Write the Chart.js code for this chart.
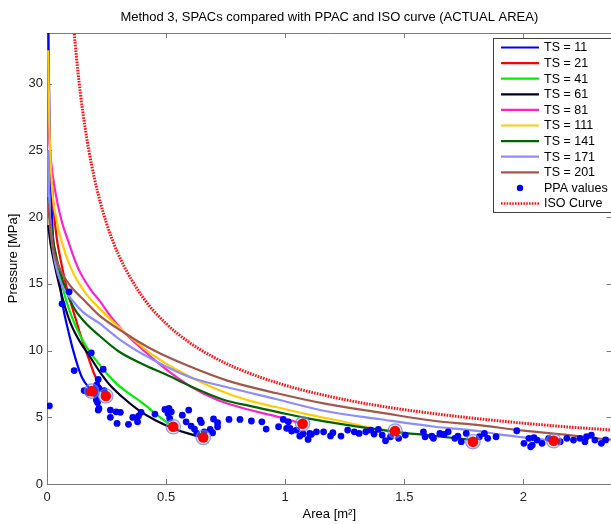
<!DOCTYPE html>
<html><head><meta charset="utf-8">
<script src="https://cdn.jsdelivr.net/npm/chart.js@4.4.1/dist/chart.umd.min.js"></script>
<style>html,body{margin:0;padding:0;background:#fff;overflow:hidden;}#wrap{width:620px;height:524px;}</style>
</head><body><div id="wrap"><canvas id="c" width="620" height="524"></canvas></div>
<script>
const FONT = '"Liberation Sans", Arial, Helvetica, sans-serif';
const titleText = 'Method 3, SPACs compared with PPAC and ISO curve (ACTUAL AREA)';
const xLabel = 'Area [m²]';
const yLabel = 'Pressure [MPa]';
const xTicks = [0, 0.5, 1, 1.5, 2];
const yTicks = [0, 5, 10, 15, 20, 25, 30];
const xRange = [0, 2.37];
const yRange = [0, 33.8];

const seriesNames = ['TS = 11','TS = 21','TS = 41','TS = 61','TS = 81','TS = 111','TS = 141','TS = 171','TS = 201'];
const seriesColors = ['#0000ff','#ff0000','#00ee00','#000028','#ff22cc','#ffcc00','#006400','#8c8cff','#a3574b'];

const ts11Area = [0.005,0.008,0.012,0.018,0.025,0.04,0.052,0.066,0.085,0.107,0.13,0.149,0.1875];
const ts11Pressure = [36,30.5,25.8,21.6,18.6,16.2,15.3,13.4,11.8,10.2,8.8,7.9,6.96];
const ts21Area = [0.02,0.03,0.041,0.055,0.07,0.09,0.12,0.149,0.175,0.197,0.22,0.247];
const ts21Pressure = [22.7,20.2,18.4,17.0,15.7,14.2,12.4,10.7,9.4,8.3,7.4,6.6];
const ts41Area = [0.005,0.012,0.025,0.04,0.055,0.068,0.085,0.107,0.14,0.176,0.218,0.25,0.287,0.335,0.384,0.42,0.453,0.49,0.53];
const ts41Pressure = [21.5,20.0,18.3,16.9,15.7,14.6,13.5,12.4,11.1,10.0,9.0,8.3,7.6,6.9,6.29,5.8,5.3,4.8,4.29];
const ts61Area = [0.005,0.015,0.03,0.05,0.075,0.1,0.14,0.176,0.218,0.26,0.315,0.38,0.453,0.536,0.591,0.656];
const ts61Pressure = [19.4,18.0,16.6,15.0,13.3,12.0,10.6,9.66,8.5,7.5,6.54,5.6,4.79,4.12,3.79,3.49];
const ts81Area = [0.005,0.015,0.034,0.06,0.089,0.13,0.186,0.218,0.27,0.329,0.4,0.495,0.605,0.716,0.84,0.965,1.073];
const ts81Pressure = [27.0,24.5,22.0,19.8,18.2,16.2,14.5,13.8,12.5,11.28,10.1,8.66,7.28,6.29,5.6,5.05,4.51];
const ts111Area = [0.005,0.01,0.02,0.04,0.061,0.1,0.158,0.218,0.28,0.35,0.45,0.55,0.7,0.84,0.965,1.1,1.25,1.38,1.461];
const ts111Pressure = [32.5,27.0,22.5,19.8,18.2,16.2,14.4,13.2,12.1,11.0,9.6,8.5,7.2,6.29,5.75,5.2,4.65,4.15,3.97];
const ts141Area = [0.005,0.015,0.03,0.06,0.107,0.16,0.218,0.3,0.4,0.5,0.6,0.744,0.85,0.965,1.1,1.25,1.461,1.6,1.788];
const ts141Pressure = [21.5,19.6,17.8,15.6,13.4,12.1,11.15,9.95,9.0,8.2,7.35,6.3,5.85,5.41,4.9,4.45,3.91,3.65,3.3];
const ts171Area = [0.005,0.01,0.02,0.035,0.06,0.1,0.15,0.218,0.3,0.4,0.5,0.6,0.757,0.965,1.172,1.4,1.629,1.794,1.905,2.0,2.127];
const ts171Pressure = [25.0,21.0,18.3,16.5,15.0,13.9,12.9,12.07,10.9,9.75,8.8,8.0,7.25,6.35,5.45,4.85,4.29,4.0,3.7,3.5,3.24];
const ts201Area = [0.005,0.015,0.03,0.06,0.1,0.16,0.218,0.329,0.45,0.6,0.757,0.965,1.172,1.4,1.629,1.794,2.0,2.2,2.338,2.45];
const ts201Pressure = [21.0,18.8,17.3,15.9,14.8,13.7,12.65,11.28,10.0,8.8,7.75,6.8,6.0,5.35,4.72,4.45,4.0,3.65,3.37,3.2];

const isoArea = [0.105,0.11,0.118,0.13,0.14,0.15,0.16,0.175,0.2,0.225,0.25,0.3,0.4,0.5,0.6,0.7,0.8,1.0,1.2,1.4,1.6,1.8,2.0,2.2,2.4];
const isoPressure = [35.85,34.69,33.03,30.87,29.30,27.92,26.69,25.07,22.83,21.03,19.53,17.19,14.05,12.02,10.58,9.50,8.65,7.40,6.51,5.84,5.33,4.91,4.56,4.26,4.01];

const ppacArea = [0.1875,0.247,0.53,0.656,1.073,1.461,1.788,2.127];
const ppacPressure = [6.96,6.6,4.29,3.49,4.51,3.97,3.17,3.24];

const ppaArea = [0.010,0.063,0.093,0.114,0.156,0.170,0.176,0.186,0.204,0.207,0.208,0.212,0.215,0.218,0.218,0.215,
 0.236,0.240,0.248,0.266,0.266,0.290,0.308,0.294,0.342,0.360,0.380,0.384,0.395,0.453,0.495,0.512,
 0.508,0.522,0.515,0.568,0.595,0.584,0.605,0.619,0.643,0.648,0.629,0.660,0.685,0.695,0.699,0.716,
 0.716,0.764,0.81,0.858,0.902,0.920,0.972,0.992,1.013,1.006,1.02,1.027,1.048,1.061,1.075,1.096,
 1.103,1.110,1.131,1.161,1.19,1.2,1.234,1.262,1.290,1.310,1.338,1.359,1.373,1.391,1.407,1.421,
 1.442,1.476,1.504,1.580,1.587,1.615,1.622,1.649,1.667,1.684,1.712,1.725,1.739,1.760,1.815,1.836,
 1.850,1.885,1.972,2.002,2.023,2.037,2.030,2.044,2.057,2.078,2.106,2.154,2.182,2.210,2.237,2.258,
 2.265,2.285,2.300,2.327,2.345];
const ppaPressure = [5.86,13.5,14.4,8.5,7.0,6.9,6.83,9.83,6.74,6.29,7.41,6.1,7.84,7.16,5.66,5.54,
 8.6,7.0,6.54,5.54,5.0,5.41,5.37,4.54,4.47,4.99,4.66,5.09,5.37,5.24,5.59,5.66,
 5.29,5.41,4.92,5.16,5.54,4.66,4.34,4.12,4.79,4.6,3.79,3.91,4.09,3.84,4.87,4.59,
 4.29,4.84,4.84,4.72,4.66,4.12,4.29,4.84,4.66,4.17,4.17,3.97,4.04,3.59,3.75,3.34,
 3.79,3.72,3.91,3.91,3.6,3.85,3.59,4.04,3.91,3.79,3.91,4.04,3.74,4.09,3.67,3.24,
 3.54,3.42,3.67,3.91,3.54,3.59,3.42,3.79,3.72,3.91,3.42,3.59,3.17,3.79,3.54,3.79,
 3.42,3.54,3.99,3.05,3.42,2.92,2.79,3.47,3.29,3.05,3.42,3.17,3.42,3.29,3.42,3.17,
 3.54,3.67,3.29,3.05,3.3];

function zip(a, p) { return a.map((v, i) => ({x: v, y: p[i]})); }

const curveAreas = [ts11Area, ts21Area, ts41Area, ts61Area, ts81Area, ts111Area, ts141Area, ts171Area, ts201Area];
const curvePressures = [ts11Pressure, ts21Pressure, ts41Pressure, ts61Pressure, ts81Pressure, ts111Pressure, ts141Pressure, ts171Pressure, ts201Pressure];

const datasets = [];
// top-most first (Chart.js draws index 0 last)
datasets.push({label:'PPAC', data: zip(ppacArea, ppacPressure), pointRadius: 5.3, backgroundColor:'#ff0000', borderColor:'#ff0000', borderWidth:0, showLine:false, legendKind:null, order:0});
datasets.push({label:'PPAC halo', data: zip(ppacArea, ppacPressure), pointRadius: 7.2, backgroundColor:'rgba(120,200,160,0.35)', borderColor:'rgba(110,120,255,0.75)', borderWidth:1.2, showLine:false, legendKind:null, order:1});
datasets.push({label:'ISO Curve', data: zip(isoArea, isoPressure), showLine:true, borderColor:'#ff1010', borderWidth:3, borderDash:[1.6,1.2], pointRadius:0, cubicInterpolationMode:'monotone', legendKind:'dotted', legendOrder:10, order:2});
datasets.push({label:'PPA values', data: zip(ppaArea, ppaPressure), showLine:false, pointRadius:3.4, backgroundColor:'#0000ff', borderWidth:0, legendKind:'dot', legendOrder:9, order:3});
for (let i = seriesNames.length - 1; i >= 0; i--) {
  datasets.push({label: seriesNames[i], data: zip(curveAreas[i], curvePressures[i]), showLine:true, borderColor: seriesColors[i], borderWidth:2.2, pointRadius:0, cubicInterpolationMode:'monotone', legendKind:'line', legendOrder:i, order: 4 + (seriesNames.length - 1 - i)});
}

const framePlugin = {
  id: 'frame',
  beforeDatasetsDraw(chart) {
    const {ctx, chartArea: a, scales: {x, y}} = chart;
    ctx.save();
    ctx.strokeStyle = '#7a7a7a';
    ctx.lineWidth = 1;
    ctx.beginPath();
    ctx.moveTo(a.left + 0.5, a.top + 0.5); ctx.lineTo(a.left + 0.5, a.bottom + 0.5);
    ctx.lineTo(a.right + 0.5, a.bottom + 0.5); ctx.lineTo(a.right + 0.5, a.top + 0.5); ctx.closePath();
    ctx.stroke();
    ctx.beginPath();
    xTicks.forEach(v => { const px = Math.round(x.getPixelForValue(v)) + 0.5;
      ctx.moveTo(px, a.bottom); ctx.lineTo(px, a.bottom - 5);
      ctx.moveTo(px, a.top); ctx.lineTo(px, a.top + 5); });
    yTicks.forEach(v => { const py = Math.round(y.getPixelForValue(v)) + 0.5;
      ctx.moveTo(a.left, py); ctx.lineTo(a.left + 5, py);
      ctx.moveTo(a.right, py); ctx.lineTo(a.right - 5, py); });
    ctx.stroke();
    ctx.restore();
  }
};

const legendPlugin = {
  id: 'boxLegend',
  afterDraw(chart) {
    const ctx = chart.ctx;
    const items = chart.data.datasets.filter(d => d.legendKind).sort((p, q) => p.legendOrder - q.legendOrder);
    const x0 = 493.5, y0 = 38.5, w = 160, rowH = 15.6, firstY = 47.5;
    const h = 174;
    ctx.save();
    ctx.fillStyle = '#ffffff'; ctx.fillRect(x0, y0, w, h);
    ctx.strokeStyle = '#404040'; ctx.lineWidth = 1; ctx.strokeRect(x0, y0, w, h);
    ctx.font = '12.5px ' + FONT;
    ctx.textBaseline = 'middle'; ctx.textAlign = 'left';
    items.forEach((d, i) => {
      const yy = firstY + i * rowH;
      if (d.legendKind === 'line' || d.legendKind === 'dotted') {
        ctx.save();
        ctx.strokeStyle = d.borderColor;
        ctx.lineWidth = d.legendKind === 'dotted' ? 2.6 : 2.2;
        if (d.legendKind === 'dotted') ctx.setLineDash([1.6, 1.2]);
        ctx.beginPath(); ctx.moveTo(501, yy); ctx.lineTo(539, yy); ctx.stroke();
        ctx.restore();
      } else {
        ctx.fillStyle = d.backgroundColor;
        ctx.beginPath(); ctx.arc(520, yy, 3.2, 0, Math.PI * 2); ctx.fill();
      }
      ctx.fillStyle = '#000';
      ctx.fillText(d.label, 544, yy + 0.5);
    });
    ctx.restore();
  }
};

new Chart(document.getElementById('c'), {
  type: 'scatter',
  data: {datasets},
  options: {
    responsive: false,
    animation: false,
    devicePixelRatio: 1,
    layout: {padding: {left: 0, right: 2, top: 0, bottom: 0}},
    plugins: {
      legend: {display: false},
      tooltip: {enabled: false},
      title: {display: true, text: titleText, color: '#000', fullSize: false,
        font: {family: FONT, size: 13, weight: 'normal'}, padding: {top: 10, bottom: 7.4}}
    },
    scales: {
      x: {
        type: 'linear', min: xRange[0], max: xRange[1],
        afterBuildTicks: s => { s.ticks = xTicks.map(v => ({value: v})); },
        afterFit: s => { s.height = 40; },
        grid: {display: false, drawTicks: false},
        border: {display: false},
        ticks: {color: '#222', font: {family: FONT, size: 13}, padding: 6, maxRotation: 0, callback: v => String(v)},
        title: {display: true, text: xLabel, color: '#000', font: {family: FONT, size: 13}, padding: {top: 2, bottom: 2}}
      },
      y: {
        type: 'linear', min: yRange[0], max: yRange[1],
        afterBuildTicks: s => { s.ticks = yTicks.map(v => ({value: v})); },
        afterFit: s => { s.width = 47; },
        grid: {display: false, drawTicks: false},
        border: {display: false},
        ticks: {color: '#222', font: {family: FONT, size: 13}, padding: 4, callback: v => String(v)},
        title: {display: true, text: yLabel, color: '#000', font: {family: FONT, size: 13}, padding: {top: 6, bottom: 6}}
      }
    }
  },
  plugins: [framePlugin, legendPlugin]
});
</script></body></html>
